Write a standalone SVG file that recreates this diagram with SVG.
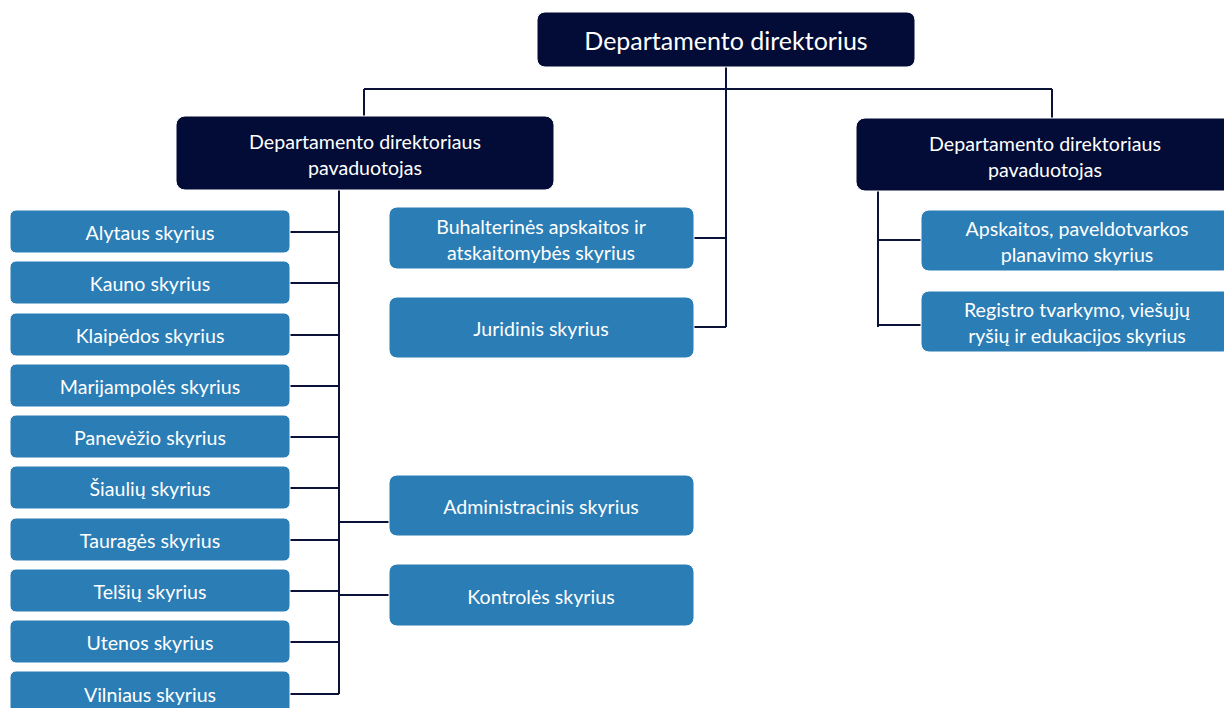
<svg xmlns="http://www.w3.org/2000/svg" width="1224" height="708" viewBox="0 0 1224 708">
<style>
.dark{fill:#020c36;stroke:#ffffff;stroke-width:1}
.light{fill:#2a7db5;stroke:#ffffff;stroke-width:1}
text{font-family:Lato,"Open Sans","Liberation Sans",sans-serif;fill:#ffffff;text-anchor:middle;dominant-baseline:central}
.t1{font-size:25px}
.t2{font-size:19.6px}
.c{stroke:#0a1238;stroke-width:2;fill:none}
</style>
<rect width="1224" height="708" fill="#ffffff"/>
<g id="connectors">
<path class="c" d="M726,66 V327 M364,89 H1052 M364,89 V116 M1052,89 V118"/>
<path class="c" d="M339,189 V694"/>
<path class="c" d="M290,232 H339 M290,283 H339 M290,335 H339 M290,386 H339 M290,437 H339 M290,488 H339 M290,540 H339 M290,591 H339 M290,642 H339 M290,694 H339"/>
<path class="c" d="M339,522 H389 M339,595 H389"/>
<path class="c" d="M693,238 H726 M693,327 H726"/>
<path class="c" d="M878,190 V327 M878,240 H921 M878,325 H921"/>
</g>
<g id="director"><rect class="dark" x="537" y="12" width="378" height="55" rx="8"/><text class="t1" x="726" y="40">Departamento direktorius</text></g>
<g id="deputy-left"><rect class="dark" x="176" y="116" width="378" height="74" rx="9"/><text class="t2" x="365" y="141">Departamento direktoriaus</text><text class="t2" x="365" y="167">pavaduotojas</text></g>
<g id="deputy-right"><rect class="dark" x="856" y="118" width="378" height="73" rx="9"/><text class="t2" x="1045" y="143">Departamento direktoriaus</text><text class="t2" x="1045" y="169">pavaduotojas</text></g>
<g id="alytaus"><rect class="light" x="10" y="210" width="280" height="43" rx="6"/><text class="t2" x="150" y="232">Alytaus skyrius</text></g>
<g id="kauno"><rect class="light" x="10" y="261" width="280" height="43" rx="6"/><text class="t2" x="150" y="283">Kauno skyrius</text></g>
<g id="klaipedos"><rect class="light" x="10" y="313" width="280" height="43" rx="6"/><text class="t2" x="150" y="335">Klaipėdos skyrius</text></g>
<g id="marijampoles"><rect class="light" x="10" y="364" width="280" height="43" rx="6"/><text class="t2" x="150" y="386">Marijampolės skyrius</text></g>
<g id="panevezio"><rect class="light" x="10" y="415" width="280" height="43" rx="6"/><text class="t2" x="150" y="437">Panevėžio skyrius</text></g>
<g id="siauliu"><rect class="light" x="10" y="466" width="280" height="43" rx="6"/><text class="t2" x="150" y="488">Šiaulių skyrius</text></g>
<g id="taurages"><rect class="light" x="10" y="518" width="280" height="43" rx="6"/><text class="t2" x="150" y="540">Tauragės skyrius</text></g>
<g id="telsiu"><rect class="light" x="10" y="569" width="280" height="43" rx="6"/><text class="t2" x="150" y="591">Telšių skyrius</text></g>
<g id="utenos"><rect class="light" x="10" y="620" width="280" height="43" rx="6"/><text class="t2" x="150" y="642">Utenos skyrius</text></g>
<g id="vilniaus"><rect class="light" x="10" y="671" width="280" height="43" rx="6"/><text class="t2" x="150" y="694">Vilniaus skyrius</text></g>
<g id="buhalterines"><rect class="light" x="389" y="207" width="305" height="62" rx="8"/><text class="t2" x="541" y="226">Buhalterinės apskaitos ir</text><text class="t2" x="541" y="252">atskaitomybės skyrius</text></g>
<g id="juridinis"><rect class="light" x="389" y="297" width="305" height="61" rx="8"/><text class="t2" x="541" y="328">Juridinis skyrius</text></g>
<g id="administracinis"><rect class="light" x="389" y="475" width="305" height="61" rx="8"/><text class="t2" x="541" y="506">Administracinis skyrius</text></g>
<g id="kontroles"><rect class="light" x="389" y="564" width="305" height="62" rx="8"/><text class="t2" x="541" y="596">Kontrolės skyrius</text></g>
<g id="apskaitos"><rect class="light" x="921" y="210" width="310" height="61" rx="8"/><text class="t2" x="1077" y="228">Apskaitos, paveldotvarkos</text><text class="t2" x="1077" y="254">planavimo skyrius</text></g>
<g id="registro"><rect class="light" x="921" y="291" width="310" height="61" rx="8"/><text class="t2" x="1077" y="309">Registro tvarkymo, viešųjų</text><text class="t2" x="1077" y="335">ryšių ir edukacijos skyrius</text></g>
</svg>
